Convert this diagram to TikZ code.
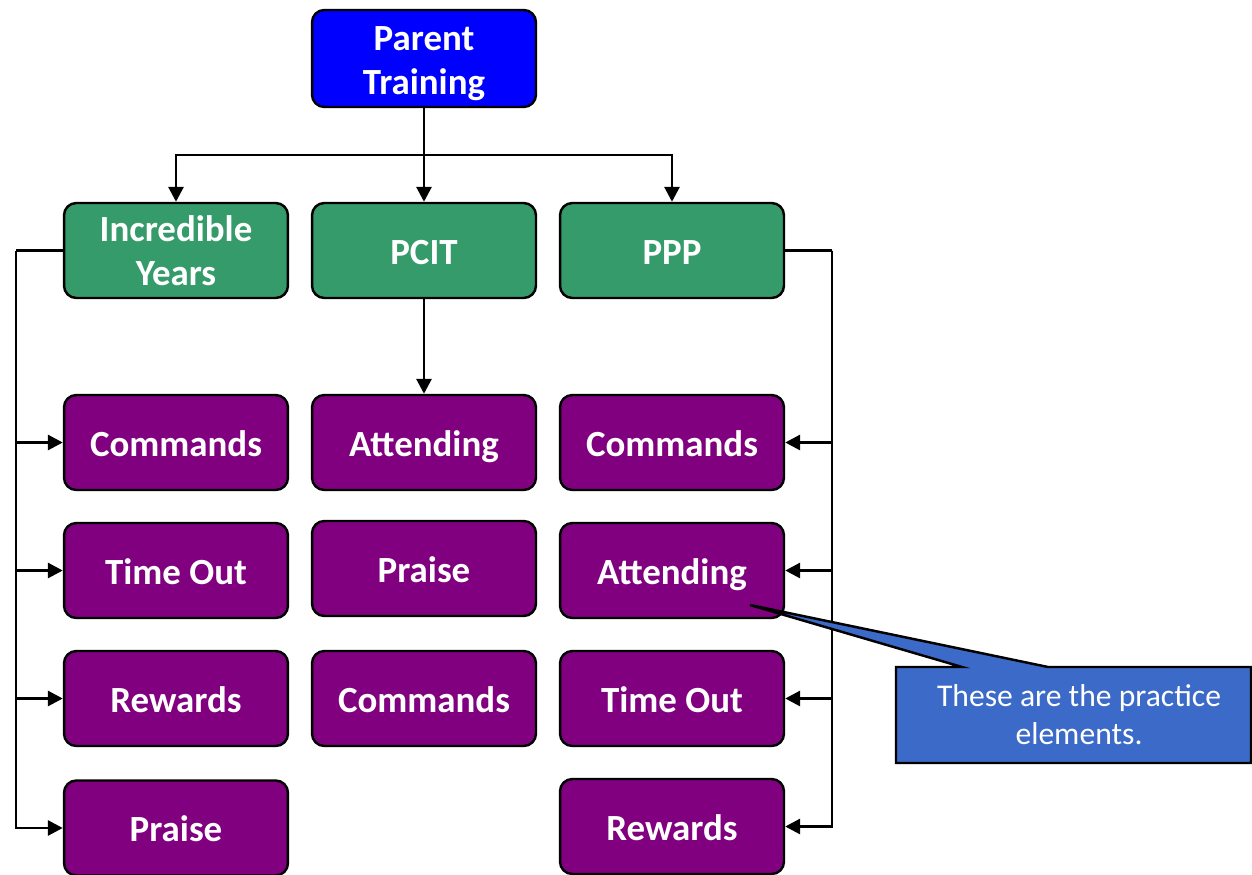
\documentclass[tikz,border=0pt]{standalone}
\usepackage{fontspec}
\setmainfont{Carlito}
\usepackage{tikz}
\usetikzlibrary{arrows.meta}

\definecolor{ptblue}{RGB}{0,0,255}
\definecolor{pgreen}{RGB}{54,155,106}
\definecolor{elpurple}{RGB}{128,0,128}
\definecolor{noteblue}{RGB}{59,106,200}

\tikzset{
	box/.style={draw=black, line width=1.4pt, rounded corners=7pt, minimum width=4.48cm,
		minimum height=1.9cm, align=center, text=white, font=\fontsize{21}{25}\selectfont\bfseries},
	oneline/.style={text height=20pt, text depth=4.3pt},
	topbox/.style={box, fill=ptblue},
	progbox/.style={box, fill=pgreen},
	elbox/.style={box, oneline, fill=elpurple},
	arr/.style={line width=1.7pt, -{Triangle[length=8.5pt,width=8.5pt]}},
	lin/.style={line width=1.7pt}
}

\begin{document}
\begin{tikzpicture}[x=0.02cm,y=-0.02cm]
	\useasboundingbox (0,0) rectangle (1252,875);
	%
	\node[topbox] (pt) at (424,58.5) {\rule{0pt}{20pt}Parent\\Training};
	%
	\node[progbox] (iy)   at (176,250.5) {Incredible\\Years};
	\node[progbox, oneline] (pcit) at (424,250.5) {PCIT};
	\node[progbox, oneline] (ppp)  at (672,250.5) {PPP};
	%
	\node[elbox] (iycmd)  at (176,442.5) {Commands};
	\node[elbox] (iyto)   at (176,570.5) {Time Out};
	\node[elbox] (iyrew)  at (176,698.5) {Rewards};
	\node[elbox] (iypr)   at (176,828)   {Praise};
	%
	\node[elbox] (pcatt)  at (424,442.5) {Attending};
	\node[elbox] (pcpr)   at (424,568.5) {Praise};
	\node[elbox] (pccmd)  at (424,698.5) {Commands};
	%
	\node[elbox] (ppcmd)  at (672,442.5) {Commands};
	\node[elbox] (ppatt)  at (672,570.5) {Attending};
	\node[elbox] (ppto)   at (672,698.5) {Time Out};
	\node[elbox] (pprew)  at (672,826.5) {Rewards};
	
	\coordinate (split) at (424,155);
	\coordinate (lbus) at (16,250.5);
	\coordinate (rbus) at (832,250.5);
	
	%top lines
	\draw[lin] (pt.south) -- (split);
	\draw[arr] (split) -| (iy.north);
	\draw[arr] (split) -- (pcit.north);
	\draw[arr] (split) -| (ppp.north);
	
	\draw[arr] (pcit.south) -- (pcatt.north);			%PCIT--Attending
	
	%left bus
	\draw[lin] (iy.west) -- (lbus);
	\draw[arr] (lbus) |- (iycmd.west);
	\draw[arr] (lbus) |- (iyto.west);
	\draw[arr] (lbus) |- (iyrew.west);
	\draw[arr] (lbus) |- (iypr.west);
	
	%right bus
	\draw[lin] (ppp.east) -- (rbus);
	\draw[arr] (rbus) |- (ppcmd.east);
	\draw[arr] (rbus) |- (ppatt.east);
	\draw[arr] (rbus) |- (ppto.east);
	\draw[arr] (rbus) |- (pprew.east);
	
	%callout
	\coordinate (tip) at (750,605);
	\draw[line width=1.4pt, fill=noteblue] (896,667) -- (962,667) -- (tip) -- (1048,667)
		-- (1251,667) -- (1251,763) -- (896,763) -- cycle;
	\node[text=white, align=center, font=\fontsize{18}{21.6}\selectfont] (note) at (1079,715)
		{These are the practice\\elements.};
\end{tikzpicture}
\end{document}
